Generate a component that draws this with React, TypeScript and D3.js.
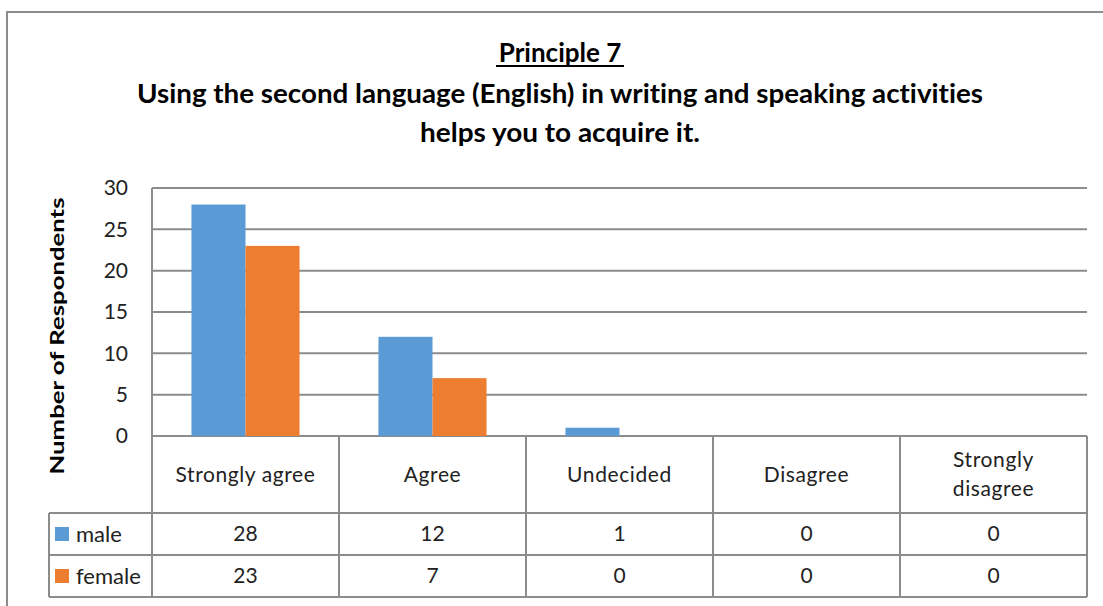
import React from "react";
import * as d3 from "d3";

const categories = ["Strongly agree", "Agree", "Undecided", "Disagree", "Strongly disagree"];
const categoryLines = [["Strongly agree"], ["Agree"], ["Undecided"], ["Disagree"], ["Strongly", "disagree"]];
const seriesNames = ["male", "female"];
const maleValues = [28, 12, 1, 0, 0];
const femaleValues = [23, 7, 0, 0, 0];
const yTicks = [0, 5, 10, 15, 20, 25, 30];
const colors = ["#5B9BD5", "#ED7D31"];

const W = 1103;
const H = 606;
const plotLeft = 152;
const plotRight = 1087;
const plotTop = 188;
const plotBottom = 436;
const rowHead = 513;
const rowMale = 555;
const rowFemale = 597;
const legendLeft = 49;
const gridColor = "#8c8c8c";
const font = "Lato, 'Open Sans', sans-serif";

export default function App() {
  const x = d3.scaleBand<string>().domain(categories).range([plotLeft, plotRight]).paddingInner(0).paddingOuter(0);
  const inner = d3
    .scaleBand<string>()
    .domain(seriesNames)
    .range([0, x.bandwidth()])
    .paddingInner(0)
    .paddingOuter(0.73);
  const y = d3.scaleLinear().domain([0, 30]).range([plotBottom, plotTop]);
  const series = [maleValues, femaleValues];
  const rows = [rowHead, rowMale, rowFemale];

  return (
    <div style={{ position: "absolute", left: 0, top: 0, margin: 0 }}>
      <svg width={W} height={H} style={{ display: "block", background: "#fff", fontVariantLigatures: "none" }}>
        {/* outer border */}
        <path d={`M7,${H + 5} L7,12 L${W + 5},12`} fill="none" stroke={gridColor} strokeWidth={2} />

        {/* title */}
        <text x={560} y={62} textAnchor="middle" fontFamily={font} fontWeight="bold" fontSize={26} fill="#000">
          Principle 7
        </text>
        <line x1={496} x2={624} y1={66} y2={66} stroke="#000" strokeWidth={2} />
        <text x={560} y={103} textAnchor="middle" fontFamily={font} fontWeight="bold" fontSize={26} fill="#000" textLength={846} lengthAdjust="spacingAndGlyphs">
          Using the second language (English) in writing and speaking activities
        </text>
        <text x={560} y={142} textAnchor="middle" fontFamily={font} fontWeight="bold" fontSize={26} fill="#000" textLength={280} lengthAdjust="spacingAndGlyphs">
          helps you to acquire it.
        </text>

        {/* y axis label */}
        <text
          transform={`translate(64,${336}) rotate(-90)`}
          textAnchor="middle"
          fontFamily={font}
          fontWeight="bold"
          fontSize={19}
          fill="#000"
          textLength={277}
          lengthAdjust="spacingAndGlyphs"
        >
          Number of Respondents
        </text>

        {/* gridlines */}
        {yTicks.map((t) => (
          <g key={t}>
            <line x1={plotLeft} x2={plotRight} y1={y(t)} y2={y(t)} stroke={gridColor} strokeWidth={2} />
            <text x={128} y={y(t)} dy="0.35em" textAnchor="end" fontFamily={font} fontSize={21} fill="#222">
              {t}
            </text>
          </g>
        ))}

        {/* bars */}
        {series.map((vals, si) =>
          vals.map((v, ci) => (
            <rect
              key={`${si}-${ci}`}
              x={(x(categories[ci]) as number) + (inner(seriesNames[si]) as number)}
              y={y(v)}
              width={inner.bandwidth()}
              height={plotBottom - y(v)}
              fill={colors[si]}
            />
          ))
        )}

        {/* y axis line */}
        <line x1={plotLeft} x2={plotLeft} y1={plotTop} y2={rowFemale} stroke={gridColor} strokeWidth={2} />

        {/* data table */}
        {categories.map((c, ci) => (
          <line
            key={`v${ci}`}
            x1={(x(c) as number) + x.bandwidth()}
            x2={(x(c) as number) + x.bandwidth()}
            y1={plotBottom}
            y2={rowFemale}
            stroke={gridColor}
            strokeWidth={2}
          />
        ))}
        {rows.map((r) => (
          <line key={`h${r}`} x1={legendLeft} x2={plotRight} y1={r} y2={r} stroke={gridColor} strokeWidth={2} />
        ))}
        <line x1={legendLeft} x2={legendLeft} y1={rowHead} y2={rowFemale} stroke={gridColor} strokeWidth={2} />

        {/* category headers */}
        {categoryLines.map((lines, ci) => {
          const cx = (x(categories[ci]) as number) + x.bandwidth() / 2;
          const cy = (plotBottom + rowHead) / 2;
          const lh = 29;
          return (
            <text key={`c${ci}`} x={cx} textAnchor="middle" fontFamily={font} fontSize={21} letterSpacing={0.6} fill="#222">
              {lines.map((l, li) => (
                <tspan key={li} x={cx} y={cy + (li - (lines.length - 1) / 2) * lh} dy="0.35em">
                  {l}
                </tspan>
              ))}
            </text>
          );
        })}

        {/* legend + values */}
        {series.map((vals, si) => {
          const top = rows[si];
          const bottom = rows[si + 1];
          const cy = (top + bottom) / 2;
          return (
            <g key={`s${si}`}>
              <rect x={55} y={cy - 7} width={14} height={14} fill={colors[si]} />
              <text x={76} y={cy} dy="0.35em" fontFamily={font} fontSize={22} fill="#222">
                {seriesNames[si]}
              </text>
              {vals.map((v, ci) => (
                <text
                  key={ci}
                  x={(x(categories[ci]) as number) + x.bandwidth() / 2}
                  y={cy}
                  dy="0.35em"
                  textAnchor="middle"
                  fontFamily={font}
                  fontSize={21}
                  fill="#222"
                >
                  {v}
                </text>
              ))}
            </g>
          );
        })}
      </svg>
    </div>
  );
}
